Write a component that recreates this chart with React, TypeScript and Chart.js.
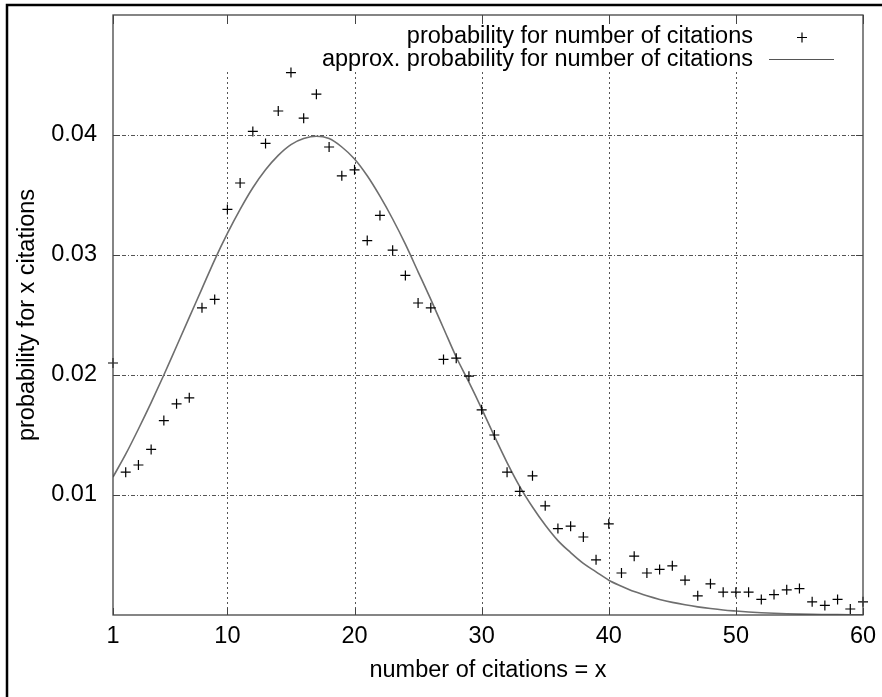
import React, { useEffect, useRef } from "react";
import { Chart, registerables } from "chart.js";
Chart.register(...registerables);

const citations = [
  1, 2, 3, 4, 5, 6, 7, 8, 9, 10, 11, 12, 13, 14, 15, 16, 17, 18, 19, 20,
  21, 22, 23, 24, 25, 26, 27, 28, 29, 30, 31, 32, 33, 34, 35, 36, 37, 38, 39, 40,
  41, 42, 43, 44, 45, 46, 47, 48, 49, 50, 51, 52, 53, 54, 55, 56, 57, 58, 59, 60,
];

const observed = [
  0.0210, 0.0119, 0.0125, 0.0138, 0.0162, 0.0176, 0.0181, 0.0256, 0.0263, 0.0338,
  0.0360, 0.0403, 0.0393, 0.0420, 0.0452, 0.0414, 0.0434, 0.0390, 0.0366, 0.0371,
  0.0312, 0.0333, 0.0304, 0.0283, 0.0260, 0.0256, 0.0213, 0.0214, 0.0199, 0.0171,
  0.0150, 0.0119, 0.0103, 0.0116, 0.0091, 0.0072, 0.0074, 0.0065, 0.0046, 0.0076,
  0.0035, 0.0049, 0.0035, 0.0038, 0.0041, 0.0029, 0.0016, 0.0026, 0.0019, 0.0019,
  0.0019, 0.0013, 0.0017, 0.0021, 0.0022, 0.0011, 0.0008, 0.0013, 0.0005, 0.0011,
];

const approx = [
  0.0115, 0.0134, 0.0155, 0.0177, 0.0200, 0.0224, 0.0248, 0.0272, 0.0296, 0.0318,
  0.0338, 0.0356, 0.0371, 0.0383, 0.0392, 0.0397, 0.0399, 0.0397, 0.0390, 0.0380,
  0.0366, 0.0349, 0.0330, 0.0309, 0.0286, 0.0263, 0.0239, 0.0215, 0.0194, 0.0172,
  0.0149, 0.0127, 0.0107, 0.0090, 0.0075, 0.0062, 0.0052, 0.0043, 0.0036, 0.0029,
  0.0024, 0.00195, 0.0016, 0.0013, 0.00105, 0.00085, 0.00068, 0.00054, 0.00042, 0.00033,
  0.00025, 0.00019, 0.00014, 0.0001, 0.00007, 0.00005, 0.00004, 0.00003, 0.00002, 0.00001,
];

const xTicks = [1, 10, 20, 30, 40, 50, 60];
const yTicks = [0.01, 0.02, 0.03, 0.04];
const yTickLabels = ["0.01", "0.02", "0.03", "0.04"];
const seriesLabels = [
  "probability for number of citations",
  "approx. probability for number of citations",
];
const xTitle = "number of citations = x";
const yTitle = "probability for x citations";

const FONT = '"Liberation Sans", Arial, Helvetica, sans-serif';
const FSIZE = 23.5;

const decorPlugin = {
  id: "decor",
  beforeDatasetsDraw(chart: any) {
    const { ctx, chartArea: a } = chart;
    const xs = chart.scales.x;
    ctx.save();
    ctx.strokeStyle = "#555";
    ctx.lineWidth = 1;
    ctx.setLineDash([2, 3]);
    xTicks.forEach((v) => {
      if (v === xs.min || v === xs.max) return;
      const px = Math.round(xs.getPixelForValue(v)) + 0.5;
      ctx.beginPath();
      ctx.moveTo(px, 72);
      ctx.lineTo(px, a.bottom);
      ctx.stroke();
    });
    ctx.restore();
  },
  afterDraw(chart: any) {
    const { ctx, chartArea: a } = chart;
    const xs = chart.scales.x;
    const ys = chart.scales.y;
    ctx.save();
    // plot border
    ctx.strokeStyle = "#444";
    ctx.lineWidth = 1.3;
    ctx.setLineDash([]);
    ctx.strokeRect(a.left, a.top, a.right - a.left, a.bottom - a.top);
    // inward ticks
    ctx.lineWidth = 1;
    ctx.beginPath();
    yTicks.forEach((v) => {
      const py = Math.round(ys.getPixelForValue(v)) + 0.5;
      ctx.moveTo(a.left, py);
      ctx.lineTo(a.left + 7, py);
      ctx.moveTo(a.right, py);
      ctx.lineTo(a.right - 7, py);
    });
    xTicks.forEach((v) => {
      const px = Math.round(xs.getPixelForValue(v)) + 0.5;
      ctx.moveTo(px, a.bottom);
      ctx.lineTo(px, a.bottom - 7);
      ctx.moveTo(px, a.top);
      ctx.lineTo(px, a.top + 9);
    });
    ctx.stroke();

    // legend
    ctx.fillStyle = "#000";
    ctx.font = `${FSIZE}px ${FONT}`;
    ctx.textAlign = "right";
    ctx.textBaseline = "middle";
    ctx.fillText(seriesLabels[0], 753, 37);
    ctx.fillText(seriesLabels[1], 753, 60);
    ctx.strokeStyle = "#000";
    ctx.lineWidth = 1.2;
    ctx.beginPath();
    ctx.moveTo(797, 37.5);
    ctx.lineTo(807, 37.5);
    ctx.moveTo(802, 32.5);
    ctx.lineTo(802, 42.5);
    ctx.stroke();
    ctx.strokeStyle = "#555";
    ctx.lineWidth = 1.2;
    ctx.beginPath();
    ctx.moveTo(769, 59.5);
    ctx.lineTo(834, 59.5);
    ctx.stroke();

    // axis titles
    ctx.fillStyle = "#000";
    ctx.textAlign = "center";
    ctx.textBaseline = "middle";
    ctx.fillText(xTitle, (a.left + a.right) / 2, 671);
    ctx.save();
    ctx.translate(34, (a.top + a.bottom) / 2);
    ctx.rotate(-Math.PI / 2);
    ctx.textBaseline = "alphabetic";
    ctx.fillText(yTitle, 0, 0);
    ctx.restore();

    // outer frame
    ctx.strokeStyle = "#000";
    ctx.lineWidth = 2.5;
    ctx.beginPath();
    ctx.moveTo(7, 697);
    ctx.lineTo(7, 5);
    ctx.lineTo(882, 5);
    ctx.stroke();
    ctx.restore();
  },
};

export default function App() {
  const ref = useRef<HTMLCanvasElement | null>(null);
  useEffect(() => {
    if (!ref.current) return;
    const chart = new Chart(ref.current, {
      type: "scatter",
      data: {
        datasets: [
          {
            label: seriesLabels[0],
            data: citations.map((x, i) => ({ x, y: observed[i] })),
            showLine: false,
            pointStyle: "cross",
            pointRadius: 5,
            pointHoverRadius: 5,
            borderColor: "#000",
            backgroundColor: "#000",
            borderWidth: 1.2,
            clip: false,
          } as any,
          {
            label: seriesLabels[1],
            data: citations.map((x, i) => ({ x, y: approx[i] })),
            showLine: true,
            pointRadius: 0,
            borderColor: "#6e6e6e",
            borderWidth: 1.6,
            cubicInterpolationMode: "monotone",
            fill: false,
          } as any,
        ],
      },
      options: {
        animation: false,
        responsive: false,
        devicePixelRatio: 1,
        events: [],
        layout: { padding: { left: 0, right: 19, top: 15, bottom: 0 } },
        plugins: {
          legend: { display: false },
          tooltip: { enabled: false },
          title: { display: false },
        },
        scales: {
          x: {
            type: "linear",
            min: 1,
            max: 60,
            afterBuildTicks: (s: any) => {
              s.ticks = xTicks.map((v) => ({ value: v }));
            },
            afterFit: (s: any) => {
              s.height = 82;
              s.paddingLeft = 0;
              s.paddingRight = 0;
            },
            ticks: {
              autoSkip: false,
              maxRotation: 0,
              padding: 7,
              color: "#000",
              font: { family: FONT, size: FSIZE },
              callback: (v: any) => String(v),
            },
            grid: { display: false, drawTicks: false },
            border: { display: false },
          },
          y: {
            type: "linear",
            min: 0,
            max: 0.05,
            afterBuildTicks: (s: any) => {
              s.ticks = yTicks.map((v) => ({ value: v }));
            },
            afterFit: (s: any) => {
              s.width = 113;
              s.paddingTop = 0;
              s.paddingBottom = 0;
            },
            ticks: {
              autoSkip: false,
              padding: 16,
              color: "#000",
              font: { family: FONT, size: FSIZE },
              callback: (v: any) => {
                const i = yTicks.findIndex((t) => Math.abs(t - v) < 1e-9);
                return i >= 0 ? yTickLabels[i] : "";
              },
            },
            grid: { color: "#555", lineWidth: 1, drawTicks: false },
            border: { display: false, dash: [4, 2, 1, 2] },
          },
        },
      },
      plugins: [decorPlugin],
    });
    return () => chart.destroy();
  }, []);
  return (
    <div style={{ position: "fixed", left: 0, top: 0, width: 882, height: 697, background: "#fff" }}>
      <canvas ref={ref} width={882} height={697} style={{ display: "block" }} />
    </div>
  );
}
